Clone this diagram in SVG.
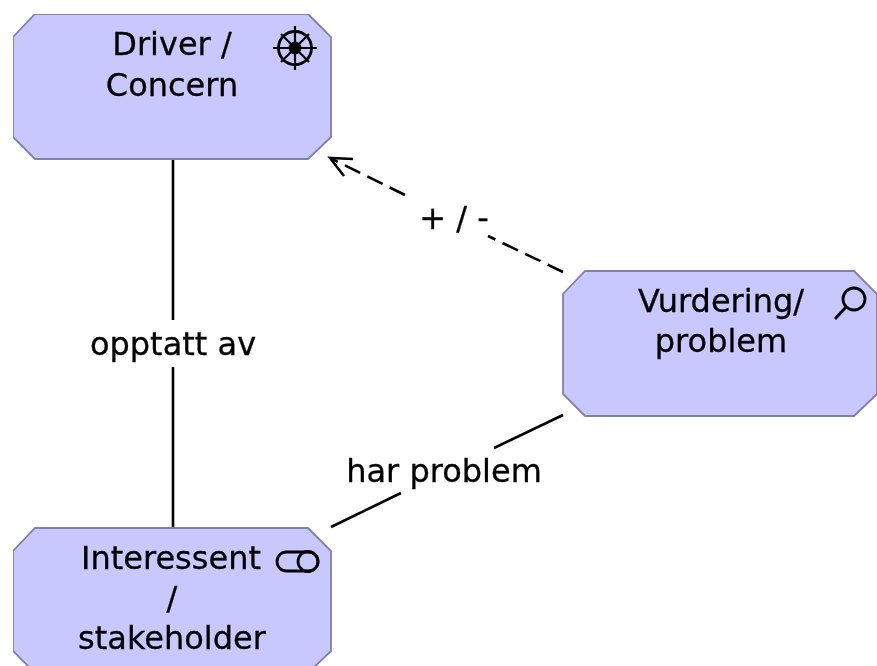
<svg xmlns="http://www.w3.org/2000/svg" width="877" height="666" viewBox="0 0 877 666">
<style>
.n{fill:#c8c8ff;stroke:#8080a8;stroke-width:1.8}
text{font-family:"DejaVu Sans",sans-serif;font-size:32px;fill:#000;stroke:#000;stroke-width:0.3;text-anchor:middle}
.i{fill:none;stroke:#000;stroke-width:2.8}
.c{fill:none;stroke:#000;stroke-width:2.6}
</style>
<defs><filter id="soft" x="0" y="0" width="100%" height="100%"><feGaussianBlur stdDeviation="0.7"/></filter></defs>
<rect width="877" height="666" fill="#fff"/>
<g filter="url(#soft)">
<g id="connectors">
<path class="c" d="M173 160V320M173 367V527"/>
<path class="c" d="M331 527L401 493M494 448L563 415"/>
<path class="c" stroke-dasharray="17 8" d="M563 272L488 236M405 195L332 159"/>
<path class="c" d="M353 159L330 158L344 176"/>
</g>
<g id="driver">
<path class="n" d="M35 14H308L331 37V137L308 159H35L13 137V37Z"/>
<g class="i"><circle cx="295" cy="48" r="16.5"/><path d="M295 26V70M273 48H317M281 34L309 62M309 34L281 62" stroke-width="2.2"/></g>
<circle cx="295" cy="48" r="6.5" fill="#000"/>
<text x="172" y="55">Driver /</text><text x="172" y="96">Concern</text>
</g>
<g id="vurdering">
<path class="n" d="M585 271H854L877 294V394L854 416H585L563 394V294Z"/>
<g class="i"><circle cx="854" cy="299" r="11"/><path d="M846 307L835 319"/></g>
<text x="721" y="312">Vurdering/</text><text x="721" y="352">problem</text>
</g>
<g id="interessent">
<path class="n" d="M35 528H308L331 551V651L308 673H35L13 651V551Z"/>
<g class="i"><rect x="277" y="552" width="41" height="19" rx="9.5"/><circle cx="308" cy="561.5" r="10"/></g>
<text x="171" y="569">Interessent</text><text x="172" y="609">/</text><text x="172" y="649">stakeholder</text>
</g>
<g id="labels">
<text x="173" y="355">opptatt av</text>
<text x="444" y="482">har problem</text>
<text x="454" y="229">+ / -</text>
</g>
</g>
</svg>
